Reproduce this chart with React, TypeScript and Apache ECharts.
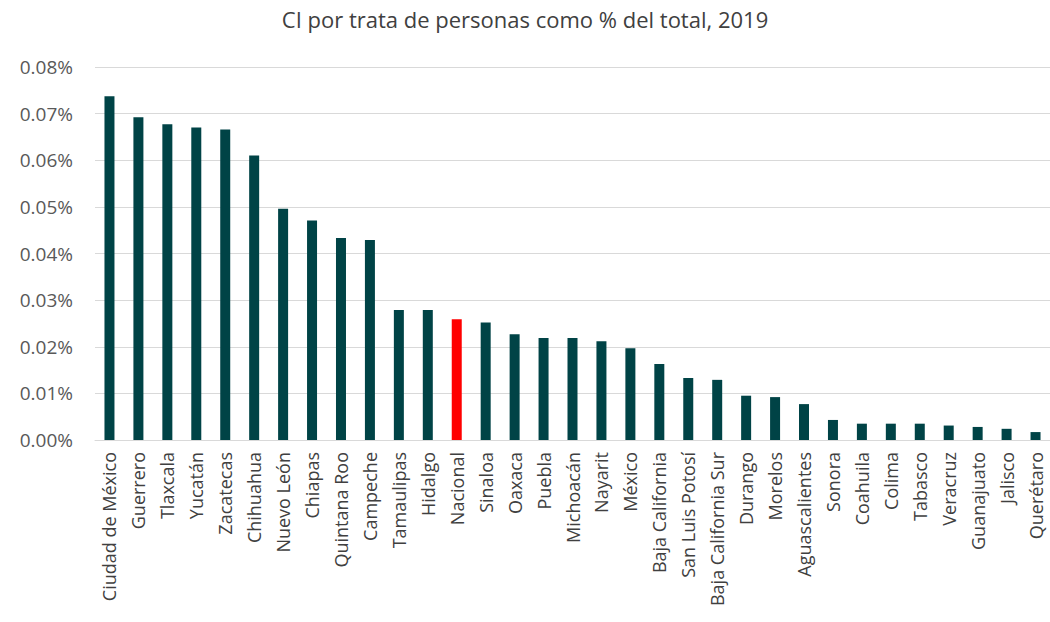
import React, { useEffect, useRef } from "react";
import * as echarts from "echarts";

const categories = [
  "Ciudad de México", "Guerrero", "Tlaxcala", "Yucatán", "Zacatecas", "Chihuahua",
  "Nuevo León", "Chiapas", "Quintana Roo", "Campeche", "Tamaulipas", "Hidalgo",
  "Nacional", "Sinaloa", "Oaxaca", "Puebla", "Michoacán", "Nayarit", "México",
  "Baja California", "San Luis Potosí", "Baja California Sur", "Durango", "Morelos",
  "Aguascalientes", "Sonora", "Coahuila", "Colima", "Tabasco", "Veracruz",
  "Guanajuato", "Jalisco", "Querétaro",
];

// values in percent units (0.0737 means 0.0737%)
const values = [
  0.0737, 0.0692, 0.0677, 0.067, 0.0666, 0.061,
  0.0496, 0.0471, 0.0433, 0.0429, 0.0279, 0.0279,
  0.0259, 0.0252, 0.0227, 0.0219, 0.0219, 0.0212, 0.0197,
  0.0163, 0.0133, 0.0129, 0.0095, 0.0092,
  0.0077, 0.0043, 0.0035, 0.0035, 0.0035, 0.0031,
  0.0028, 0.0024, 0.0017,
];

const highlight = "Nacional";
const title = "CI por trata de personas como % del total, 2019";

export default function App() {
  const ref = useRef<HTMLDivElement>(null);
  useEffect(() => {
    if (!ref.current) return;
    const chart = echarts.init(ref.current, null, { renderer: "svg" });
    const font = "'Open Sans', sans-serif";
    chart.setOption({
      animation: false,
      backgroundColor: "#ffffff",
      title: {
        text: title,
        left: "center",
        top: 3,
        textStyle: { fontFamily: font, fontSize: 22, fontWeight: "normal", color: "#404040" },
      },
      grid: { left: 95, right: -8, top: 67, bottom: 182, containLabel: false },
      xAxis: {
        type: "category",
        data: categories,
        axisTick: { show: false },
        axisLine: { lineStyle: { color: "#d9d9d9", width: 1 } },
        axisLabel: {
          interval: 0,
          rotate: 90,
          margin: 12,
          fontFamily: font,
          fontSize: 18,
          color: "#404040",
        },
      },
      yAxis: {
        type: "value",
        min: 0,
        max: 0.08,
        interval: 0.01,
        axisLine: { show: false },
        axisTick: { show: false },
        splitLine: { lineStyle: { color: "#d9d9d9", width: 1 } },
        axisLabel: {
          margin: 22,
          fontFamily: font,
          fontSize: 19,
          color: "#595959",
          formatter: (v: number) => v.toFixed(2) + "%",
        },
      },
      series: [
        {
          type: "bar",
          barWidth: 10,
          data: values.map((v, i) => ({
            value: v,
            itemStyle: { color: categories[i] === highlight ? "#ff0000" : "#004346" },
          })),
        },
      ],
    });
    return () => chart.dispose();
  }, []);
  return (
    <div
      ref={ref}
      style={{ position: "fixed", left: 0, top: 0, width: 1050, height: 622 }}
    />
  );
}
